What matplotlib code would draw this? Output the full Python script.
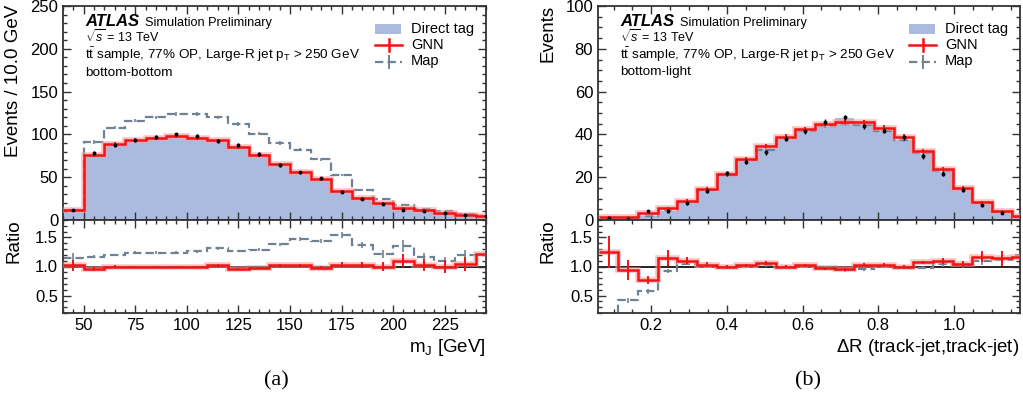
import matplotlib
matplotlib.use("Agg")
import matplotlib.pyplot as plt
from matplotlib.ticker import MultipleLocator, FormatStrFormatter
from matplotlib.lines import Line2D
from matplotlib.patches import Rectangle
import numpy as np

plt.rcParams['font.family'] = ['Liberation Sans', 'DejaVu Sans']
plt.rcParams['mathtext.fontset'] = 'custom'
plt.rcParams['mathtext.rm'] = 'Liberation Sans'
plt.rcParams['mathtext.it'] = 'Liberation Sans:italic'
plt.rcParams['mathtext.bf'] = 'Liberation Sans:bold'
plt.rcParams['lines.scale_dashes'] = False

# ---------------- data: (a) bottom-bottom, m_J ----------------
mj_edges = [40, 50, 60, 70, 80, 90, 100, 110, 120, 130, 140, 150, 160, 170,
            180, 190, 200, 210, 220, 230, 240, 250]
mj_direct = [12, 76, 89, 94, 97, 99, 97, 94, 86, 76, 65, 56, 48, 34, 26, 20, 14, 12, 8, 6, 5]
mj_gnn = [12, 76, 89, 94, 96, 98, 96, 93, 85, 76, 65, 56, 48, 34, 26, 20, 14, 12, 8, 6, 5]
mj_gnn_err = [1.0, 2.0, 2.0, 2.0, 2.0, 2.0, 2.0, 2.0, 2.0, 2.0, 1.8, 1.6, 1.5, 1.3, 1.2,
              1.0, 1.0, 0.9, 0.8, 0.7, 0.6]
mj_map = [12, 91, 108, 116, 120, 124, 124, 120, 112, 101, 90, 82, 71, 53, 35, 24, 17, 13, 10, 7, 5]
mj_map_err = [1.0, 2.0, 2.0, 2.0, 2.0, 2.0, 2.0, 2.0, 2.0, 2.0, 1.8, 1.6, 1.5, 1.3, 1.2,
              1.0, 1.0, 0.9, 0.8, 0.7, 0.6]
mj_pts = [12, 78, 88, 93, 97, 100, 98, 92, 88, 77, 64, 56, 49, 33, 25, 19, 12, 11, 8, 6, 5]
mj_pts_err = [1.2, 2.2, 2.2, 2.2, 2.2, 2.2, 2.2, 2.2, 2.2, 2.2, 2.0, 1.8, 1.7, 1.5, 1.3,
              1.2, 1.0, 1.0, 0.9, 0.8, 0.7]
mj_r_gnn = [1.02, 0.96, 1.00, 0.99, 0.99, 0.99, 0.99, 1.02, 0.96, 0.98, 1.02, 1.02, 0.98,
            1.03, 1.02, 1.00, 1.10, 1.03, 1.00, 1.04, 1.22]
mj_r_gnn_err = [0.10, 0.03, 0.02, 0.02, 0.02, 0.02, 0.02, 0.02, 0.02, 0.02, 0.03, 0.03,
                0.03, 0.04, 0.05, 0.07, 0.11, 0.10, 0.12, 0.12, 0.15]
mj_r_map = [1.15, 1.17, 1.20, 1.24, 1.24, 1.24, 1.26, 1.31, 1.27, 1.29, 1.38, 1.47, 1.44,
            1.54, 1.37, 1.22, 1.35, 1.16, 1.10, 1.19, 1.20]
mj_r_map_err = [0.08, 0.02, 0.02, 0.02, 0.02, 0.02, 0.02, 0.02, 0.02, 0.02, 0.03, 0.03,
                0.04, 0.05, 0.06, 0.07, 0.10, 0.08, 0.07, 0.10, 0.12]

# ---------------- data: (b) bottom-light, Delta R ----------------
dr_edges = [0.061, 0.113, 0.165, 0.217, 0.269, 0.321, 0.373, 0.425, 0.477, 0.529, 0.581,
            0.633, 0.685, 0.737, 0.789, 0.841, 0.893, 0.945, 0.997, 1.049, 1.101, 1.153, 1.205]
dr_direct = [0.8, 1.0, 2.0, 4.4, 8.6, 14.2, 21.2, 28.0, 33.5, 37.7, 41.7, 43.7, 47.8, 45.0,
             42.1, 37.4, 30.8, 22.5, 14.2, 7.5, 3.8, 1.6]
dr_gnn = [1.6, 1.6, 3.1, 5.5, 9.1, 14.6, 21.5, 28.5, 34.6, 39.0, 42.5, 45.0, 46.0, 45.6,
          43.2, 39.0, 32.2, 24.0, 15.0, 8.2, 4.0, 1.9]
dr_gnn_err = [0.4, 0.4, 0.5, 0.6, 0.8, 1.0, 1.0, 1.0, 1.0, 1.0, 1.0, 1.0, 1.0, 1.0,
              1.0, 1.0, 1.0, 1.0, 0.8, 0.6, 0.4, 0.3]
dr_map = [0.2, 0.5, 2.0, 4.7, 8.6, 14.2, 21.2, 28.0, 32.9, 38.2, 41.7, 44.0, 44.8, 44.5,
          41.7, 37.4, 31.1, 22.8, 14.6, 8.0, 3.9, 1.6]
dr_map_err = [0.2, 0.3, 0.5, 0.6, 0.8, 1.0, 1.0, 1.0, 1.0, 1.0, 1.0, 1.0, 1.0, 1.0,
              1.0, 1.0, 1.0, 1.0, 0.8, 0.6, 0.4, 0.3]
dr_pts = [1.0, 0.6, 4.1, 4.4, 8.0, 13.7, 21.9, 27.2, 31.6, 37.9, 41.4, 45.8, 48.0, 43.7,
          41.8, 38.7, 29.9, 21.7, 14.2, 6.8, 3.5, 1.5]
dr_pts_err = [0.6, 0.5, 0.8, 0.9, 1.1, 1.2, 1.2, 1.2, 1.2, 1.2, 1.2, 1.2, 1.2, 1.2,
              1.2, 1.2, 1.2, 1.2, 1.0, 0.8, 0.6, 0.5]
dr_r_gnn = [1.25, 0.94, 0.77, 1.15, 1.10, 1.03, 1.00, 1.02, 1.06, 1.00, 1.02, 0.97, 0.95,
            1.03, 1.03, 1.00, 1.07, 1.10, 1.04, 1.17, 1.14, 1.17]
dr_r_gnn_err = [0.27, 0.17, 0.07, 0.14, 0.06, 0.04, 0.03, 0.03, 0.03, 0.03, 0.03, 0.03,
                0.03, 0.03, 0.03, 0.03, 0.03, 0.05, 0.05, 0.10, 0.13, 0.15]
dr_r_map = [0.10, 0.42, 0.57, 0.92, 1.05, 1.00, 0.99, 1.00, 1.03, 1.00, 1.00, 0.98, 0.94,
            0.96, 1.00, 0.98, 0.98, 1.05, 1.03, 1.10, 1.12, 1.20]
dr_r_map_err = [0.05, 0.04, 0.04, 0.04, 0.03, 0.03, 0.03, 0.03, 0.03, 0.03, 0.03, 0.03,
                0.03, 0.03, 0.03, 0.03, 0.03, 0.05, 0.06, 0.08, 0.10, 0.12]

# ---------------- styles ----------------
FILL = '#abbbdf'
RED = '#f01414'
HALO = '#ff9a9a'
GREY = '#6e8294'
FRAME = '#333333'
TICKSIZE = 12
LABSIZE = 13.5

W, H = 1023, 396
fig = plt.figure(figsize=(W / 100, H / 100), dpi=100)


def px_axes(l, t, r, b):
    return fig.add_axes([l / W, 1 - b / H, (r - l) / W, (b - t) / H])


def style(ax):
    for s in ax.spines.values():
        s.set_color(FRAME)
        s.set_linewidth(1.3)
    ax.tick_params(which='both', direction='in', top=True, right=True,
                   colors=FRAME, labelcolor='black', labelsize=TICKSIZE, width=1.0)
    ax.tick_params(which='major', length=6)
    ax.tick_params(which='minor', length=3)


def draw(ax, axr, edges, direct, gnn, gnn_err, mp, mp_err, pts, pts_err,
         rg, rg_err, rm, rm_err):
    edges = np.asarray(edges)
    cen = 0.5 * (edges[:-1] + edges[1:])
    ax.stairs(direct, edges, fill=True, color=FILL, lw=0, zorder=1)
    ax.stairs(mp, edges, baseline=None, color=GREY, lw=1.6, ls=(0, (6, 3)), zorder=2)
    ax.errorbar(cen, mp, yerr=mp_err, fmt='none', ecolor=GREY, elinewidth=1.2, zorder=2)
    ax.stairs(gnn, edges, baseline=None, color=HALO, lw=4.0, alpha=0.6, zorder=3)
    ax.stairs(gnn, edges, baseline=None, color=RED, lw=1.8, zorder=4)
    ax.errorbar(cen, gnn, yerr=gnn_err, fmt='none', ecolor=RED, elinewidth=1.4, zorder=4)
    ax.errorbar(cen, pts, yerr=pts_err, fmt='o', ms=1.8, color='black',
                elinewidth=1.0, zorder=5)

    axr.axhline(1.0, color='black', lw=1.2, zorder=1)
    axr.stairs(rm, edges, baseline=None, color=GREY, lw=1.6, ls=(0, (6, 3)), zorder=2)
    axr.errorbar(cen, rm, yerr=rm_err, fmt='none', ecolor=GREY, elinewidth=1.2, zorder=2)
    axr.stairs(rg, edges, baseline=None, color=HALO, lw=4.0, alpha=0.6, zorder=3)
    axr.stairs(rg, edges, baseline=None, color=RED, lw=1.8, zorder=4)
    axr.errorbar(cen, rg, yerr=rg_err, fmt='none', ecolor=RED, elinewidth=1.4, zorder=4)
    axr.set_ylim(0.2, 1.8)
    axr.yaxis.set_major_locator(MultipleLocator(0.5))
    axr.yaxis.set_minor_locator(MultipleLocator(0.1))
    axr.yaxis.set_major_formatter(FormatStrFormatter('%.1f'))
    ax.tick_params(labelbottom=False)
    style(ax)
    style(axr)


# ---- panel (a)
axa = px_axes(63, 6, 486, 220)
axar = px_axes(63, 220, 486, 313)
draw(axa, axar, mj_edges, mj_direct, mj_gnn, mj_gnn_err, mj_map, mj_map_err,
     mj_pts, mj_pts_err, mj_r_gnn, mj_r_gnn_err, mj_r_map, mj_r_map_err)
for a in (axa, axar):
    a.set_xlim(40, 245)
    a.xaxis.set_major_locator(MultipleLocator(25))
    a.xaxis.set_minor_locator(MultipleLocator(5))
axa.set_ylim(0, 250)
axa.yaxis.set_major_locator(MultipleLocator(50))
axa.yaxis.set_minor_locator(MultipleLocator(10))

# ---- panel (b)
axb = px_axes(598, 6, 1020, 220)
axbr = px_axes(598, 220, 1020, 313)
draw(axb, axbr, dr_edges, dr_direct, dr_gnn, dr_gnn_err, dr_map, dr_map_err,
     dr_pts, dr_pts_err, dr_r_gnn, dr_r_gnn_err, dr_r_map, dr_r_map_err)
for a in (axb, axbr):
    a.set_xlim(0.059, 1.175)
    a.xaxis.set_major_locator(MultipleLocator(0.2))
    a.xaxis.set_minor_locator(MultipleLocator(0.05))
    a.xaxis.set_major_formatter(FormatStrFormatter('%.1f'))
axb.set_ylim(0, 100)
axb.yaxis.set_major_locator(MultipleLocator(20))
axb.yaxis.set_minor_locator(MultipleLocator(5))


def ftext(x, y, s, **kw):
    return fig.text(x / W, 1 - y / H, s, **kw)


# axis labels
ftext(14, 5, 'Events / 10.0 GeV', rotation=90, ha='center', va='top', fontsize=LABSIZE)
ftext(14, 219, 'Ratio', rotation=90, ha='center', va='top', fontsize=LABSIZE)
ftext(548, 5, 'Events', rotation=90, ha='center', va='top', fontsize=LABSIZE)
ftext(548, 219, 'Ratio', rotation=90, ha='center', va='top', fontsize=LABSIZE)
ftext(486, 348, r'm$_\mathrm{J}$ [GeV]', ha='right', va='center', fontsize=LABSIZE)
ftext(1019, 348, r'$\Delta$R (track-jet,track-jet)', ha='right', va='center', fontsize=LABSIZE)

# ATLAS labels
for x0, cat in ((85, 'bottom-bottom'), (620, 'bottom-light')):
    ftext(x0, 26, 'ATLAS', fontsize=12, fontweight='bold', fontstyle='italic',
          va='baseline', ha='left')
    ftext(x0 + 60, 26, 'Simulation Preliminary', fontsize=9.2, va='baseline', ha='left')
    ftext(x0, 42, r'$\sqrt{s}$ = 13 TeV', fontsize=9, va='baseline', ha='left')
    ftext(x0, 59, r'$\mathrm{t\bar{t}}$ sample, 77% OP, Large-R jet p$_\mathrm{T}$ > 250 GeV',
          fontsize=9.7, va='baseline', ha='left')
    ftext(x0, 75.5, cat, fontsize=9.7, va='baseline', ha='left')

# legends
for lx in (375, 909):
    fig.add_artist(Rectangle((lx / W, 1 - 34 / H), 26 / W, 10 / H,
                             transform=fig.transFigure, color=FILL, lw=0))
    ftext(lx + 36, 29, 'Direct tag', fontsize=10.5, va='center', ha='left')
    yg = 45
    fig.add_artist(Line2D([lx / W, (lx + 27) / W], [1 - yg / H] * 2,
                          transform=fig.transFigure, color=RED, lw=1.8))
    fig.add_artist(Line2D([(lx + 13.5) / W] * 2, [1 - (yg - 6) / H, 1 - (yg + 6) / H],
                          transform=fig.transFigure, color=RED, lw=1.8))
    ftext(lx + 36, yg, 'GNN', fontsize=10.5, va='center', ha='left')
    ym = 61.5
    fig.add_artist(Line2D([lx / W, (lx + 27) / W], [1 - ym / H] * 2,
                          transform=fig.transFigure, color=GREY, lw=1.6,
                          ls=(0, (6, 3))))
    fig.add_artist(Line2D([(lx + 13.5) / W] * 2, [1 - (ym - 6) / H, 1 - (ym + 6) / H],
                          transform=fig.transFigure, color=GREY, lw=1.4))
    ftext(lx + 36, ym, 'Map', fontsize=10.5, va='center', ha='left')

# captions
ftext(276, 381, '(a)', fontsize=16, family='Liberation Serif', ha='center', va='center')
ftext(808, 381, '(b)', fontsize=16, family='Liberation Serif', ha='center', va='center')

fig.savefig('out.png', dpi=100)
